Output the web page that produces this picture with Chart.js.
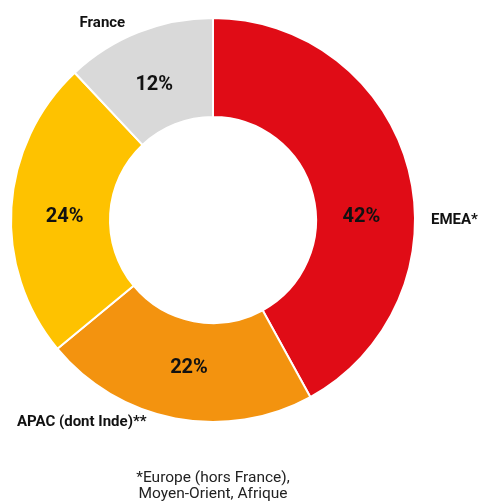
<!DOCTYPE html>
<html>
<head>
<meta charset="utf-8">
<script src="https://cdn.jsdelivr.net/npm/chart.js@4/dist/chart.umd.min.js"></script>
<style>
body{margin:0;background:#fff;}
</style>
</head>
<body>
<canvas id="grafica" width="478" height="502"></canvas>
<script>
var REGIONES=["EMEA*","APAC (dont Inde)**","","France"];
var PORCENTAJES=[42,22,24,12];
var COLORES=["#E00C16","#F3930F","#FEC200","#D9D9D9"];
var NOTA=["*Europe (hors France),","Moyen-Orient, Afrique"];

// where the texts sit round the ring (degrees from top, clockwise)
var DESVIO_PCT=[13,-1.5,-2,-1.7];
var ETIQUETAS=[
	{ang:90,dist:218,align:"left"},
	{ang:213,dist:241,align:"center"},
	null,
	{ang:-29.3,dist:226,align:"center"}
];

var textos={
	id:"textos",
	afterDatasetsDraw:function(chart){
		var ctx=chart.ctx;
		var arcs=chart.getDatasetMeta(0).data;
		ctx.save();
		ctx.textBaseline="middle";
		for(var i=0;i<arcs.length;i++){
			var p=arcs[i].getProps(["x","y","startAngle","endAngle","innerRadius","outerRadius"],true);
			var mid=(p.startAngle+p.endAngle)/2+DESVIO_PCT[i]*Math.PI/180;
			var r=(p.innerRadius+p.outerRadius)/2-4;
			ctx.fillStyle="#111";
			ctx.font="bold 20px Roboto";
			ctx.textAlign="center";
			ctx.fillText(PORCENTAJES[i]+"%",p.x+Math.cos(mid)*r,p.y+Math.sin(mid)*r+1);
			var e=ETIQUETAS[i];
			if(e){
				var a=e.ang*Math.PI/180-Math.PI/2;
				ctx.font="bold 15px Roboto";
				ctx.textAlign=e.align;
				ctx.fillText(REGIONES[i],p.x+Math.cos(a)*e.dist,p.y+Math.sin(a)*e.dist);
			}
		}
		ctx.font="15.5px Roboto";
		ctx.textAlign="center";
		ctx.fillStyle="#222";
		var cx=arcs[0].x;
		for(var j=0;j<NOTA.length;j++){
			ctx.fillText(NOTA[j],cx,478+j*16);
		}
		ctx.restore();
	}
};

new Chart(document.getElementById("grafica").getContext("2d"),{
	type:"doughnut",
	data:{
		labels:REGIONES,
		datasets:[{
			data:PORCENTAJES,
			backgroundColor:COLORES,
			borderColor:"#fff",
			borderWidth:2,
			hoverOffset:0
		}]
	},
	options:{
		responsive:false,
		animation:false,
		events:[],
		cutout:"51%",
		layout:{padding:{left:10,right:62,top:17,bottom:79}},
		plugins:{legend:{display:false},tooltip:{enabled:false}}
	},
	plugins:[textos]
});
</script>
</body>
</html>
